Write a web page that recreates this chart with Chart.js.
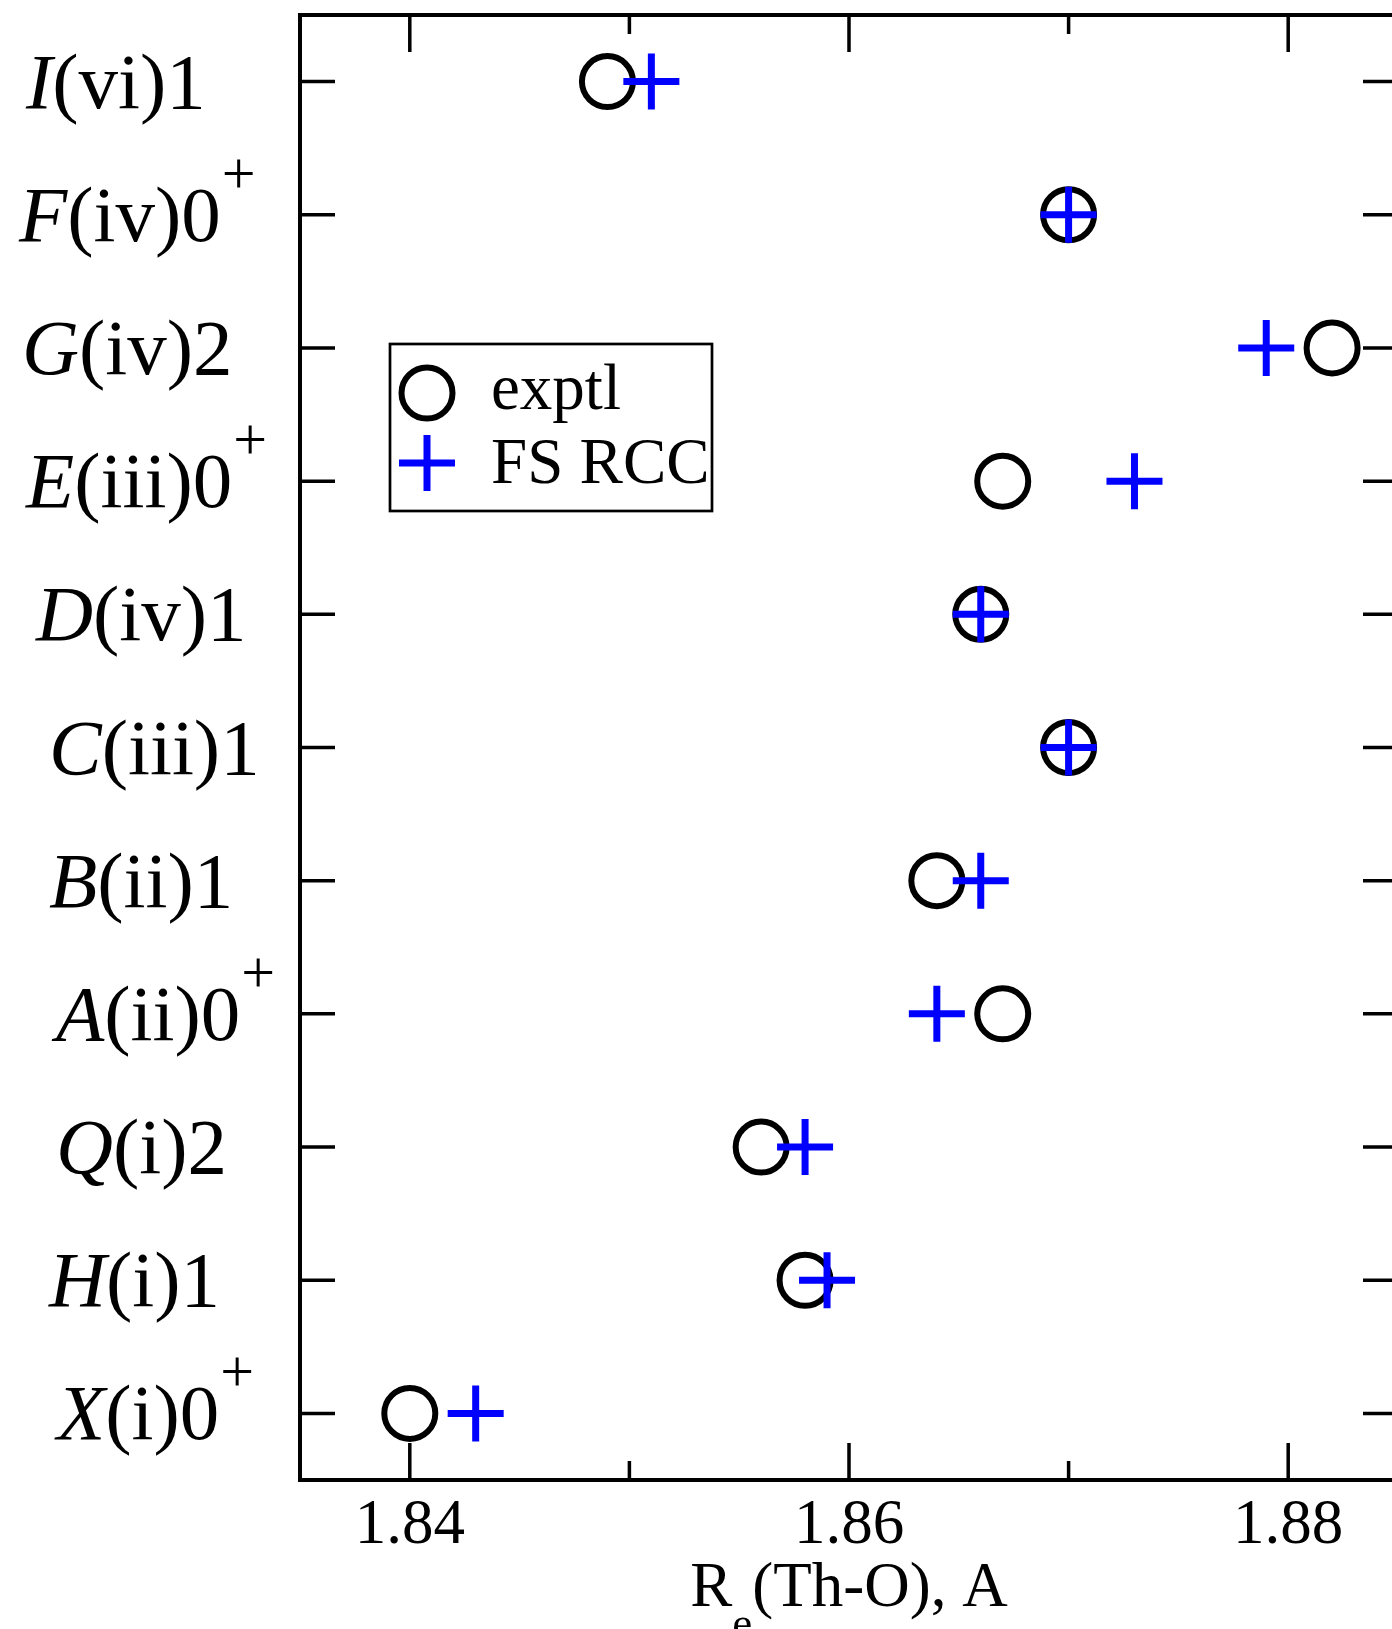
<!DOCTYPE html>
<html>
<head>
<meta charset="utf-8">
<title>Re(Th-O)</title>
<script src="https://cdn.jsdelivr.net/npm/chart.js@4/dist/chart.umd.min.js"></script>
<style>
    html, body { margin: 0; padding: 0; background: #fff; overflow: hidden; }
    #wrap { width: 1410px; height: 1629px; }
</style>
</head>
<body>
<div id="wrap"><canvas id="chart" width="1410" height="1629"></canvas></div>
<script>
// --- Data ---
const categories = ['I(vi)1', 'F(iv)0+', 'G(iv)2', 'E(iii)0+', 'D(iv)1', 'C(iii)1', 'B(ii)1', 'A(ii)0+', 'Q(i)2', 'H(i)1', 'X(i)0+'];
const exptlValues = [1.849, 1.870, 1.882, 1.867, 1.866, 1.870, 1.864, 1.867, 1.856, 1.858, 1.840];
const fsrccValues = [1.851, 1.870, 1.879, 1.873, 1.866, 1.870, 1.866, 1.864, 1.858, 1.859, 1.843];
const xMajorTicks = [1.84, 1.86, 1.88];
const xTickLabels = ['1.84', '1.86', '1.88'];
const xMinorTicks = [1.85, 1.87];

// --- Layout bits (text placement, not data) ---
const labelLeft = [26, 19, 22, 26, 36, 49, 49, 56, 56, 49, 57];
const SERIF = '"Liberation Serif", "DejaVu Serif", serif';
const LABEL_SIZE = 79;
const SUP_SIZE = 60;
const TICK_SIZE = 63;
const LEGEND_SIZE = 65;
const MAJOR_LEN = 37;
const MINOR_LEN = 19;
const CIRCLE_R = 25.5;
const CIRCLE_W = 6;

function drawStateLabel(ctx, text, left, baseline) {
    const sup = text.endsWith('+');
    const body = sup ? text.slice(0, -1) : text;
    ctx.font = `italic ${LABEL_SIZE}px ${SERIF}`;
    ctx.fillText(body[0], left, baseline);
    let cx = left + ctx.measureText(body[0]).width;
    ctx.font = `${LABEL_SIZE}px ${SERIF}`;
    ctx.fillText(body.slice(1), cx, baseline);
    cx += ctx.measureText(body.slice(1)).width;
    if (sup) {
        ctx.font = `${SUP_SIZE}px ${SERIF}`;
        ctx.fillText('+', cx + 1, baseline - 48);
    }
}

function drawCircle(ctx, x, y) {
    ctx.beginPath();
    ctx.arc(x, y, CIRCLE_R, 0, Math.PI * 2);
    ctx.fillStyle = '#fff';
    ctx.fill();
    ctx.lineWidth = CIRCLE_W;
    ctx.strokeStyle = '#000';
    ctx.stroke();
}

function drawPlus(ctx, x, y) {
    ctx.beginPath();
    ctx.moveTo(x - 28, y); ctx.lineTo(x + 28, y);
    ctx.moveTo(x, y - 28); ctx.lineTo(x, y + 28);
    ctx.lineWidth = 7;
    ctx.strokeStyle = '#0000ff';
    ctx.stroke();
}

// --- Frame, inward ticks and all the text ---
const decorations = {
    id: 'decorations',
    beforeDatasetsDraw(chart) {
        const { ctx, chartArea: a, scales: { x, y } } = chart;
        ctx.save();
        ctx.strokeStyle = '#000';
        ctx.lineCap = 'butt';

        ctx.lineWidth = 3.5;
        ctx.beginPath();
        xMajorTicks.forEach(v => {
            const px = x.getPixelForValue(v);
            ctx.moveTo(px, a.bottom); ctx.lineTo(px, a.bottom - MAJOR_LEN);
            ctx.moveTo(px, a.top); ctx.lineTo(px, a.top + MAJOR_LEN);
        });
        xMinorTicks.forEach(v => {
            const px = x.getPixelForValue(v);
            ctx.moveTo(px, a.bottom); ctx.lineTo(px, a.bottom - MINOR_LEN);
            ctx.moveTo(px, a.top); ctx.lineTo(px, a.top + MINOR_LEN);
        });
        categories.forEach((c, i) => {
            const py = y.getPixelForValue(i);
            ctx.moveTo(a.left, py); ctx.lineTo(a.left + 35, py);
            ctx.moveTo(a.right, py); ctx.lineTo(a.right - 35, py);
        });
        ctx.stroke();

        ctx.lineWidth = 4;
        ctx.strokeRect(a.left, a.top, a.right - a.left, a.bottom - a.top);

        // y labels
        ctx.fillStyle = '#000';
        ctx.textAlign = 'left';
        ctx.textBaseline = 'alphabetic';
        categories.forEach((c, i) => {
            drawStateLabel(ctx, c, labelLeft[i], y.getPixelForValue(i) + 26);
        });

        // x tick labels
        ctx.font = `${TICK_SIZE}px ${SERIF}`;
        ctx.textAlign = 'center';
        xMajorTicks.forEach((v, i) => {
            ctx.fillText(xTickLabels[i], x.getPixelForValue(v), a.bottom + 63);
        });

        // x title: R_e(Th-O), A
        const base = a.bottom + 126;
        ctx.textAlign = 'left';
        ctx.font = `${TICK_SIZE}px ${SERIF}`;
        const wR = ctx.measureText('R').width;
        const rest = '(Th-O), A';
        const wRest = ctx.measureText(rest).width;
        ctx.font = `45px ${SERIF}`;
        const wE = ctx.measureText('e').width;
        let tx = (a.left + a.right) / 2 - (wR + wE + wRest) / 2;
        ctx.font = `${TICK_SIZE}px ${SERIF}`;
        ctx.fillText('R', tx, base);
        tx += wR;
        ctx.font = `45px ${SERIF}`;
        ctx.fillText('e', tx, base + 32);
        tx += wE;
        ctx.font = `${TICK_SIZE}px ${SERIF}`;
        ctx.fillText(rest, tx, base);
        ctx.restore();
    },
    afterDatasetsDraw(chart) {
        const { ctx } = chart;
        // legend box
        const box = { left: 390, top: 344, right: 712, bottom: 511 };
        ctx.save();
        ctx.fillStyle = '#fff';
        ctx.fillRect(box.left, box.top, box.right - box.left, box.bottom - box.top);
        drawCircle(ctx, 427, 393);
        drawPlus(ctx, 427, 463);
        ctx.save();
        ctx.beginPath();
        ctx.rect(box.left, box.top, box.right - box.left, box.bottom - box.top);
        ctx.clip();
        ctx.fillStyle = '#000';
        ctx.font = `${LEGEND_SIZE}px ${SERIF}`;
        ctx.textAlign = 'left';
        ctx.textBaseline = 'alphabetic';
        ctx.fillText(chart.data.datasets[0].label, 491, 409);
        ctx.fillText(chart.data.datasets[1].label, 491, 483);
        ctx.restore();
        ctx.lineWidth = 2.7;
        ctx.strokeStyle = '#000';
        ctx.strokeRect(box.left, box.top, box.right - box.left, box.bottom - box.top);
        ctx.restore();
    }
};

// --- Chart ---
const ctx = document.getElementById('chart').getContext('2d');
new Chart(ctx, {
    type: 'scatter',
    data: {
        datasets: [{
            label: 'exptl',
            data: categories.map((c, i) => ({ x: exptlValues[i], y: c })),
            pointStyle: 'circle',
            pointRadius: CIRCLE_R,
            pointBorderWidth: CIRCLE_W,
            pointBorderColor: '#000',
            pointBackgroundColor: '#fff',
            order: 1
        }, {
            label: 'FS RCC',
            data: categories.map((c, i) => ({ x: fsrccValues[i], y: c })),
            pointStyle: 'cross',
            pointRadius: 28,
            pointBorderWidth: 7,
            pointBorderColor: '#0000ff',
            pointBackgroundColor: '#0000ff',
            order: 0
        }]
    },
    options: {
        responsive: false,
        animation: false,
        events: [],
        layout: { autoPadding: false, padding: { left: 300, top: 15, right: 12, bottom: 149 } },
        scales: {
            x: { type: 'linear', min: 1.835, max: 1.885, display: false },
            y: { type: 'category', labels: categories, offset: true, display: false }
        },
        plugins: {
            legend: { display: false },
            tooltip: { enabled: false }
        }
    },
    plugins: [decorations]
});
</script>
</body>
</html>
